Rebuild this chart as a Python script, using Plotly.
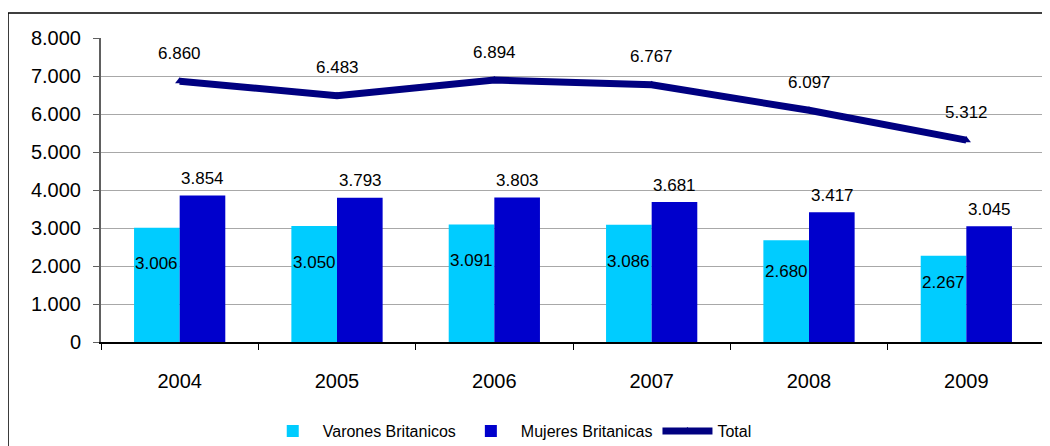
import plotly.graph_objects as go

years = ["2004", "2005", "2006", "2007", "2008", "2009"]
varones = [3006, 3050, 3091, 3086, 2680, 2267]
mujeres = [3854, 3793, 3803, 3681, 3417, 3045]
total = [6860, 6483, 6894, 6767, 6097, 5312]

def fmt(v):
    return f"{v:,}".replace(",", ".")

FONT = "Liberation Sans, Arial, sans-serif"
LBL = dict(size=17, color="black", family=FONT)

fig = go.Figure()
fig.add_trace(go.Bar(x=years, y=varones, name="Varones Britanicos",
                     marker=dict(color="#00CCFF", line=dict(width=0))))
fig.add_trace(go.Bar(x=years, y=mujeres, name="Mujeres Britanicas",
                     marker=dict(color="#0000CC", line=dict(width=0))))
fig.add_trace(go.Scatter(x=years, y=total, name="Total", mode="lines+markers",
                         line=dict(color="#000080", width=7),
                         marker=dict(symbol="triangle-up", size=8, color="#000080")))

annotations = []
for i, v in enumerate(varones):
    annotations.append(dict(x=i, y=v * 0.69, text=fmt(v), showarrow=False,
                            xshift=-23, font=LBL))
for i, v in enumerate(mujeres):
    annotations.append(dict(x=i, y=v, text=fmt(v), showarrow=False,
                            xshift=23, yshift=17, font=LBL))
for i, v in enumerate(total):
    annotations.append(dict(x=i, y=v, text=fmt(v), showarrow=False, yshift=28,
                            font=LBL))

fig.update_layout(
    width=1042, height=438,
    margin=dict(l=93, r=5, t=30, b=104, autoexpand=False),
    plot_bgcolor="white", paper_bgcolor="white",
    separators=",.",
    barmode="group", bargap=0.42, bargroupgap=0,
    font=dict(family=FONT, size=20, color="black"),
    showlegend=True,
    legend=dict(orientation="h", x=0.433, xanchor="center", y=-0.293, yanchor="middle",
                font=dict(size=16, family=FONT), itemwidth=50, traceorder="normal"),
    annotations=annotations,
    shapes=[
        dict(type="rect", xref="paper", yref="paper", x0=-0.0985, x1=1.01, y0=-0.36, y1=1.082,
             line=dict(color="black", width=1.5), fillcolor="rgba(0,0,0,0)", layer="below"),
        dict(type="line", xref="paper", yref="paper", x0=1, x1=1, y0=0, y1=1,
             line=dict(color="#A0A0A0", width=2)),
    ],
)
fig.update_xaxes(type="category", range=[-0.5, 5.5], automargin=False, showline=True,
                 linecolor="black", linewidth=2,
                 ticks="outside", tickson="boundaries", ticklen=6, tickcolor="black",
                 ticklabelstandoff=20, showgrid=False, tickfont=dict(size=20), tickangle=0)
fig.update_yaxes(range=[0, 8000], dtick=1000, tickformat=",.0f", automargin=False,
                 showgrid=True, gridcolor="#A8A8A8", gridwidth=1, showline=True,
                 linecolor="#606060", linewidth=2, ticks="outside", ticklen=6,
                 tickcolor="#606060", ticklabelstandoff=8,
                 tickfont=dict(size=20), zeroline=False)

fig.write_html("out.html")
